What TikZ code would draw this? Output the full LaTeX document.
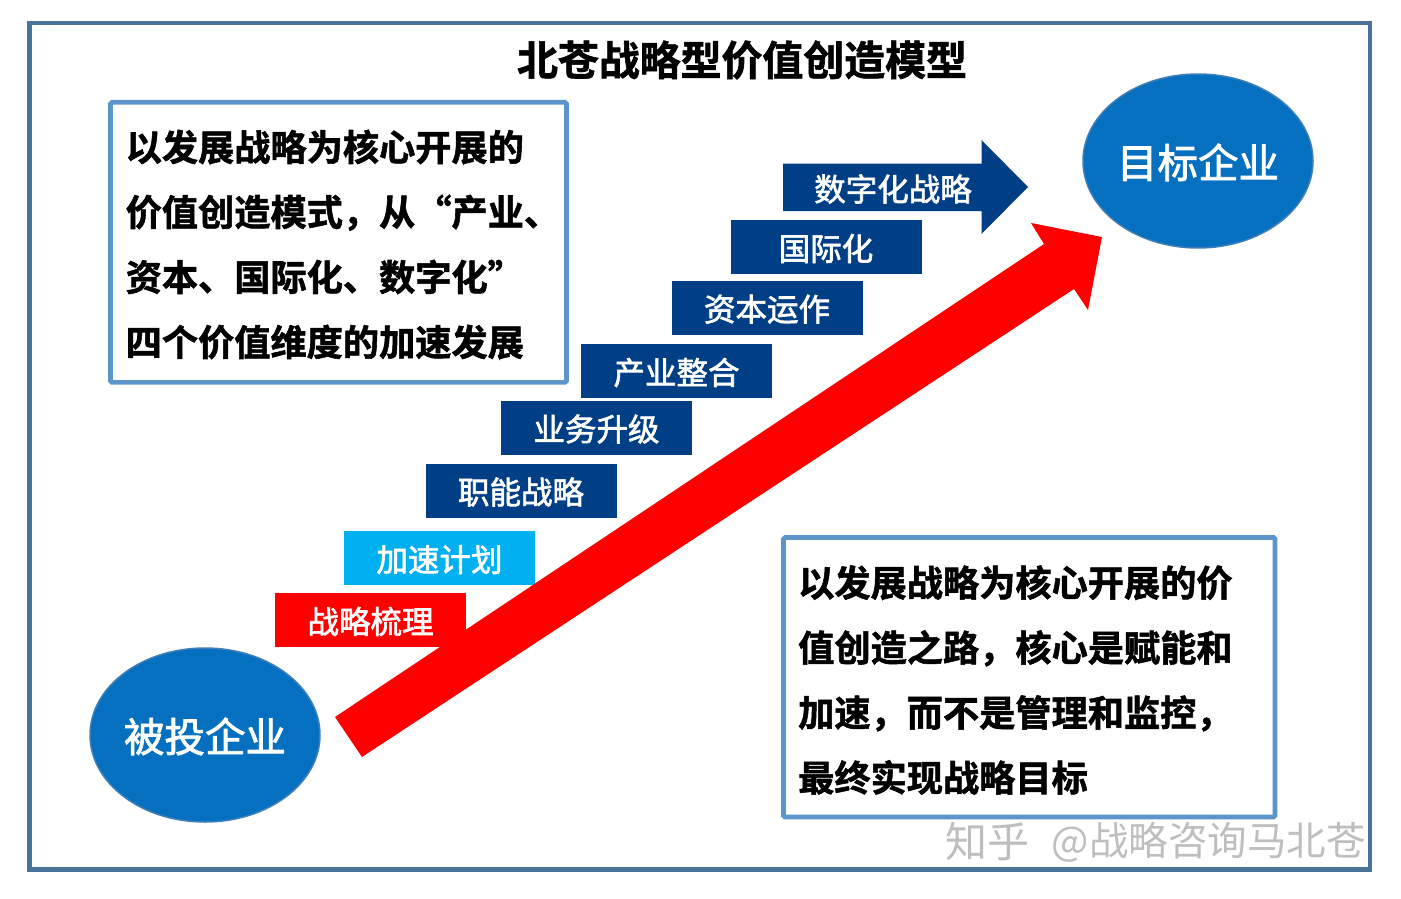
\documentclass[tikz,border=0pt]{standalone}
\usepackage{fontspec}
\setmainfont{Noto Sans CJK SC}
\newfontfamily\heavy{Noto Sans CJK SC Bold}[FakeBold=1.5]
\newfontfamily\midw{Noto Sans CJK SC}[FakeBold=2]
\usetikzlibrary{shapes.geometric}
\definecolor{framec}{HTML}{4A7298}
\definecolor{boxc}{HTML}{5B95CC}
\definecolor{navy}{HTML}{003F85}
\definecolor{sky}{HTML}{00B0F0}
\definecolor{ellc}{HTML}{0670C0}
\definecolor{ellb}{HTML}{3F7FB8}
\definecolor{wm}{HTML}{BEBEBE}
\tikzset{
 stepbox/.style={fill=navy,text=white,minimum width=191pt,minimum height=54pt,inner sep=0pt,outer sep=0pt,text height=31pt,text depth=4pt,font=\midw\fontsize{31.5}{36}\selectfont},
 infobox/.style={draw=boxc,line width=4.6pt,rounded corners=1.5pt,fill=white,inner sep=0pt,outer sep=0pt,anchor=north west},
 infotext/.style={anchor=west,align=left,inner sep=0pt,font=\heavy\fontsize{36.2}{65}\selectfont},
 goal/.style={ellipse,fill=ellc,draw=ellb,line width=1.5pt,text=white,minimum width=230pt,minimum height=174pt,inner sep=0pt,outer sep=0pt,text height=38pt,text depth=4pt,font=\midw\fontsize{40.5}{46}\selectfont},
 wmark/.style={text=wm,inner sep=0pt},
}
\begin{document}
\begin{tikzpicture}[x=1pt,y=-1pt]
\useasboundingbox (0,0) rectangle (1401,899);
\fill[white] (0,0) rectangle (1401,899);
\draw[framec,line width=4.6pt] (29.3,23.2) rectangle (1370,869.5);
\node[font=\heavy\fontsize{40.9}{46}\selectfont] (title) at (742,60) {北苍战略型价值创造模型};
\node[infobox,minimum width=456pt,minimum height=280pt] (lbox) at (110.5,102.3) {};
\node[infotext] (ltext) at (125.5,244.5) {以发展战略为核心开展的\\价值创造模式，从“产业、\\资本、国际化、数字化”\\四个价值维度的加速发展};
\node[infobox,minimum width=491.5pt,minimum height=279.5pt] (rbox) at (783.5,537.5) {};
\node[infotext] (rtext) at (798,680) {以发展战略为核心开展的价\\值创造之路，核心是赋能和\\加速，而不是管理和监控，\\最终实现战略目标};
\node[stepbox,fill=red] (s1) at (370.5,620) {战略梳理};
\node[stepbox,fill=sky] (s2) at (439.5,558) {加速计划};
\node[stepbox] (s3) at (521,490.5) {职能战略};
\node[stepbox] (s4) at (596.5,427.5) {业务升级};
\node[stepbox] (s5) at (676.5,371) {产业整合};
\node[stepbox] (s6) at (767,307.5) {资本运作};
\node[stepbox] (s7) at (826,247) {国际化};
\fill[navy] (783,163.5) -- (981.5,163.5) -- (981.5,140) -- (1028,187) -- (981.5,234) -- (981.5,211) -- (783,211) -- cycle;
\node[text=white,font=\midw\fontsize{31.5}{36}\selectfont] (s8) at (893,189) {数字化战略};
\fill[red] (335,717) -- (1044,244) -- (1031,223) -- (1102,237) -- (1088,310) -- (1074,289) -- (362,757) -- cycle;
\node[goal] (start) at (205,735) {被投企业};
\node[goal] (target) at (1198,161) {目标企业};
\node[wmark,anchor=west,font=\fontsize{42}{46}\selectfont] (wm1) at (945,842) {知乎};
\node[wmark,anchor=east,font=\fontsize{39.5}{46}\selectfont] (wm2) at (1366,842) {@战略咨询马北苍};
\end{tikzpicture}
\end{document}
